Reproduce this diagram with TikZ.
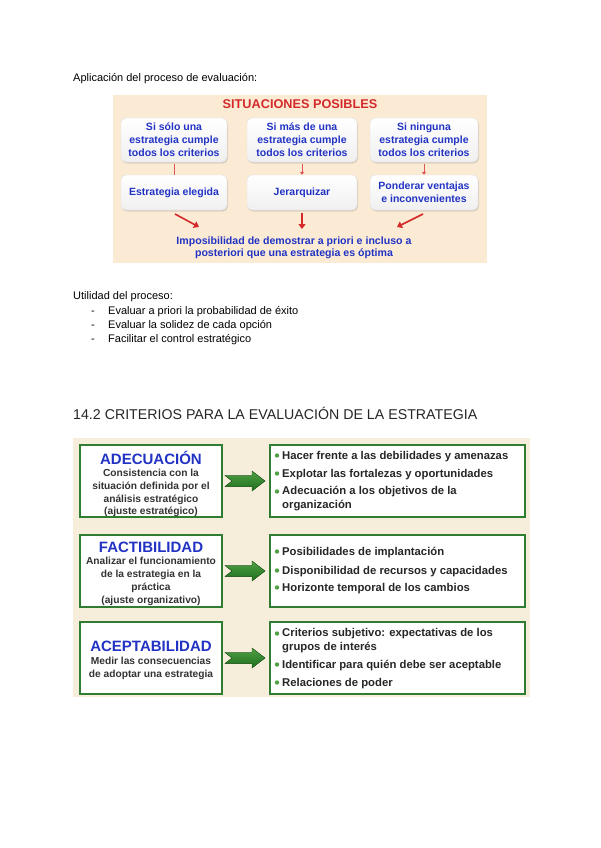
\documentclass[tikz,border=0pt]{standalone}
\usepackage{fontspec}
\setmainfont{Liberation Sans}
\usetikzlibrary{shadows,arrows.meta}
\definecolor{peach}{HTML}{FBEBD5}
\definecolor{cream}{HTML}{F6EEDB}
\definecolor{tblue}{HTML}{2233C4}
\definecolor{tred}{HTML}{D42A2A}
\definecolor{bgreen}{HTML}{2E7D32}
\definecolor{agreen}{HTML}{1E6E1E}
\definecolor{ltgreen}{HTML}{4FA043}
\definecolor{dgray}{HTML}{333333}
\tikzset{
  plain/.style={anchor=west, inner sep=0pt, text height=8pt, text depth=2.5pt, font=\fontsize{11}{13}\selectfont},
  sitbox/.style={draw=gray!25, rounded corners=5pt, top color=white, bottom color=gray!12,
     drop shadow={shadow xshift=1pt, shadow yshift=-1.5pt, opacity=0.25},
     align=center, text=tblue, font=\bfseries\fontsize{10.5}{13}\selectfont, inner sep=2pt},
  redarrow/.style={draw=tred, line width=1.6pt, -{Triangle[length=5pt,width=7pt]}},
  thinred/.style={draw=tred!80, line width=0.9pt},
  leftbox/.style={draw=bgreen, line width=1.6pt, fill=white},
  rightbox/.style={draw=bgreen, line width=1.6pt, fill=white},
  crit/.style={text=tblue, font=\bfseries\fontsize{15}{17}\selectfont, inner sep=0pt},
  critsub/.style={text=dgray, align=center, font=\bfseries\fontsize{10.2}{12.8}\selectfont, inner sep=0pt},
  bul/.style={anchor=west, text=black!85, font=\bfseries\fontsize{11.3}{14}\selectfont, align=left, inner sep=0pt, text height=8.2pt, text depth=2.4pt},
  bulml/.style={anchor=north west, text=black!85, font=\bfseries\fontsize{11.3}{14}\selectfont, align=left, inner sep=0pt},
  dot/.style={fill=ltgreen, circle, inner sep=0pt, minimum size=4.4pt},
}
\newcommand{\greenarrow}[2]{%
  \fill[top color=ltgreen, bottom color=agreen, draw=agreen!80!black, line width=0.4pt]
    (#1,#2-5.5) -- (#1+27,#2-5.5) -- (#1+27,#2-10) -- (#1+40,#2) -- (#1+27,#2+10)
    -- (#1+27,#2+5.5) -- (#1,#2+5.5) -- (#1+7,#2) -- cycle;}
\begin{document}
\begin{tikzpicture}[x=1pt,y=-1pt]
\useasboundingbox (0,0) rectangle (600,848);
\fill[white] (0,0) rectangle (600,848);

\node[plain] (t1) at (73,79) {Aplicación del proceso de evaluación:};

% top image
\fill[peach] (113,95) rectangle (487,263);
\node[text=tred, font=\bfseries\fontsize{12.7}{15}\selectfont] (sp) at (300,104) {SITUACIONES POSIBLES};

\node[sitbox, minimum width=106pt, minimum height=44pt] (a1) at (174,140) {Si sólo una\\estrategia cumple\\todos los criterios};
\node[sitbox, minimum width=110pt, minimum height=44pt] (a2) at (302,140) {Si más de una\\estrategia cumple\\todos los criterios};
\node[sitbox, minimum width=108pt, minimum height=44pt] (a3) at (424,140) {Si ninguna\\estrategia cumple\\todos los criterios};
\node[sitbox, minimum width=106pt, minimum height=35pt] (b1) at (174,192.5) {Estrategia elegida};
\node[sitbox, minimum width=110pt, minimum height=35pt] (b2) at (302,192.5) {Jerarquizar};
\node[sitbox, minimum width=108pt, minimum height=35pt] (b3) at (424,192.5) {Ponderar ventajas\\e inconvenientes};

\draw[thinred] (a1.south) ++(0,2) -- (b1.north);
\draw[thinred, -{Triangle[length=3pt,width=4pt]}] (a2.south) ++(0,2) -- (b2.north);
\draw[thinred, -{Triangle[length=3pt,width=4pt]}] (a3.south) ++(0,2) -- (b3.north);

\node[text=tblue, align=center, font=\bfseries\fontsize{10.6}{12.5}\selectfont, inner sep=0pt] (imp) at (294,248)
  {Imposibilidad de demostrar a priori e incluso a\\posteriori que una estrategia es óptima};
\coordinate (e1) at (199,227);
\coordinate (e2) at (302,229);
\coordinate (e3) at (397,227);
\draw[redarrow] (175,214) -- (e1);
\draw[redarrow] (b2.south) ++(0,3) -- (e2);
\draw[redarrow] (423,214) -- (e3);

% utilidad
\node[plain] (u0) at (73,297) {Utilidad del proceso:};
\node[plain] (d1) at (91,312) {-};
\node[plain] (d2) at (91,326) {-};
\node[plain] (d3) at (91,340) {-};
\node[plain] (u1) at (108,312) {Evaluar a priori la probabilidad de éxito};
\node[plain] (u2) at (108,326) {Evaluar la solidez de cada opción};
\node[plain] (u3) at (108,340) {Facilitar el control estratégico};

\node[anchor=west, inner sep=0pt, font=\fontsize{14.2}{16}\selectfont, text=black!85] (h) at (73,413)
  {14.2 CRITERIOS PARA LA EVALUACIÓN DE LA ESTRATEGIA};

% lower image
\fill[cream] (73,438) rectangle (530,697);

% row 1
\draw[leftbox] (80,445) rectangle (222,517);
\draw[rightbox] (270,445) rectangle (525,517);
\node[crit] (c1) at (151,458) {ADECUACIÓN};
\node[critsub] (c1s) at (151,493) {Consistencia con la\\situación definida por el\\análisis estratégico\\(ajuste estratégico)};
\greenarrow{225}{481}
\node[dot] at (277,455.5) {}; \node[bul] (r11) at (282,457) {Hacer frente a las debilidades y amenazas};
\node[dot] at (277,473.5) {}; \node[bul] (r12) at (282,475) {Explotar las fortalezas y oportunidades};
\node[dot] at (277,491.5) {}; \node[bulml] (r13) at (282,486.5) {Adecuación a los objetivos de la\\organización};

% row 2
\draw[leftbox] (80,535) rectangle (222,607);
\draw[rightbox] (270,535) rectangle (525,607);
\node[crit] (c2) at (151,547) {FACTIBILIDAD};
\node[critsub] (c2s) at (151,581.5) {Analizar el funcionamiento\\de la estrategia en la\\práctica\\(ajuste organizativo)};
\greenarrow{225}{571}
\node[dot] at (277,551.5) {}; \node[bul] (r21) at (282,553) {Posibilidades de implantación};
\node[dot] at (277,570.5) {}; \node[bul] (r22) at (282,572) {Disponibilidad de recursos y capacidades};
\node[dot] at (277,587.5) {}; \node[bul] (r23) at (282,589) {Horizonte temporal de los cambios};

% row 3
\draw[leftbox] (80,622) rectangle (222,694);
\draw[rightbox] (270,622) rectangle (525,694);
\node[crit] (c3) at (151,646) {ACEPTABILIDAD};
\node[critsub] (c3s) at (151,668) {Medir las consecuencias\\de adoptar una estrategia};
\greenarrow{225}{658}
\node[dot] at (277,633.5) {}; \node[bulml] (r31) at (282,628.5) {Criterios subjetivo: expectativas de los\\grupos de interés};
\node[dot] at (277,664.5) {}; \node[bul] (r32) at (282,666) {Identificar para quién debe ser aceptable};
\node[dot] at (277,682.5) {}; \node[bul] (r33) at (282,684) {Relaciones de poder};
\end{tikzpicture}
\end{document}
